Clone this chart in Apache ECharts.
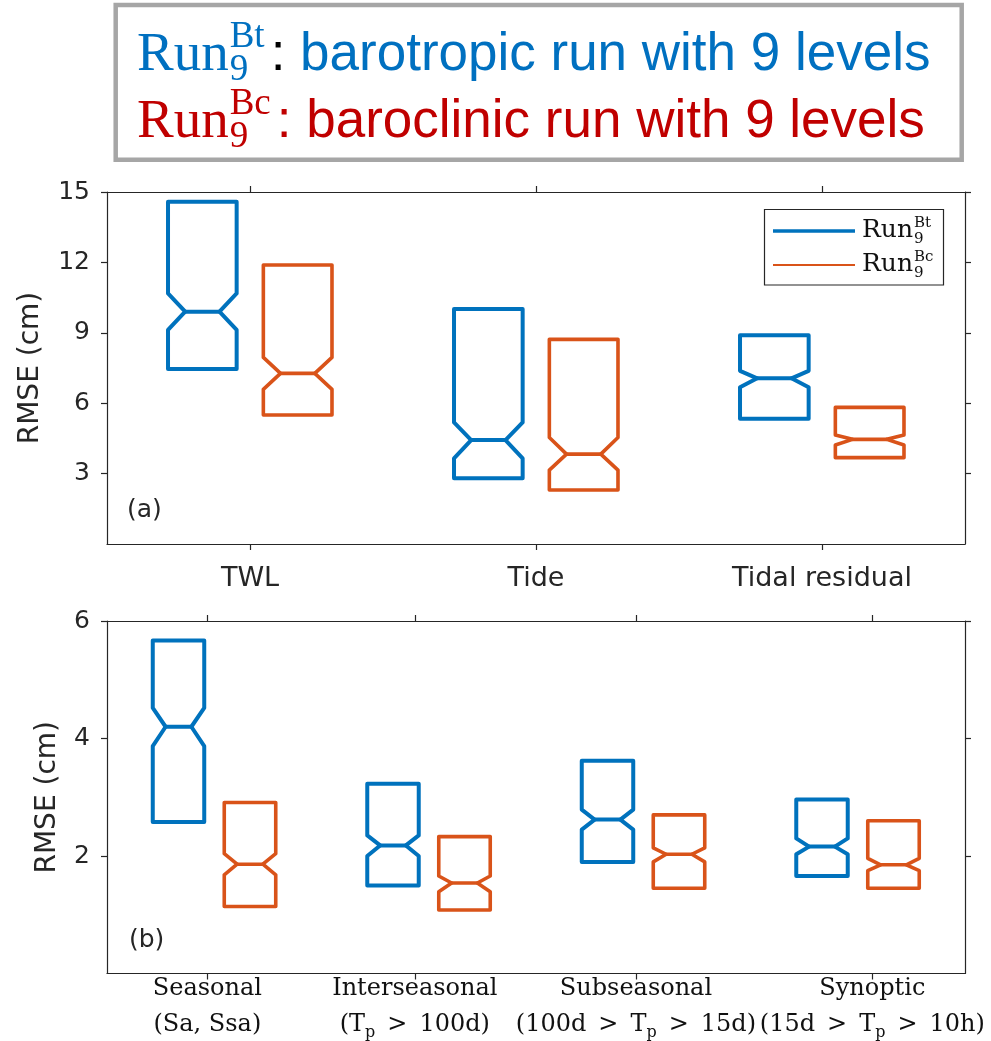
<!DOCTYPE html>
<html>
<head>
<meta charset="utf-8">
<script src="https://cdn.jsdelivr.net/npm/echarts@6/dist/echarts.min.js"></script>
<style>
  html, body { margin: 0; padding: 0; background: #fff; }
  #chart { width: 991px; height: 1041px; }
</style>
</head>
<body>
<div id="chart"></div>
<script>
// ---- data -------------------------------------------------------------
// Panel (a): RMSE (cm) of total water level, tide and tidal residual.
// Every box is [q1, notchLow, median, notchHigh, q3].
const componentNames = ['TWL', 'Tide', 'Tidal residual'];
const componentBt = [
  [7.46, 9.12, 9.90, 10.68, 14.58],
  [2.80, 3.65, 4.43, 5.18, 10.01],
  [5.34, 6.68, 7.06, 7.38, 8.90]
];
const componentBc = [
  [5.50, 6.59, 7.27, 7.95, 11.89],
  [2.30, 3.15, 3.83, 4.54, 8.72],
  [3.68, 4.22, 4.46, 4.64, 5.82]
];
const componentTicks = [3, 6, 9, 12, 15];

// Panel (b): RMSE (cm) per frequency band of the residual.
const bandNames = ['Seasonal', 'Interseasonal', 'Subseasonal', 'Synoptic'];
const bandRanges = ['(Sa, Ssa)', '(T_p > 100d)', '(100d > T_p > 15d)', '(15d > T_p > 10h)'];
const bandBt = [
  [2.58, 3.87, 4.20, 4.52, 5.67],
  [1.50, 2.00, 2.18, 2.35, 3.23],
  [1.90, 2.45, 2.62, 2.79, 3.62],
  [1.66, 2.03, 2.16, 2.30, 2.96]
];
const bandBc = [
  [1.14, 1.68, 1.86, 2.04, 2.91],
  [1.08, 1.39, 1.54, 1.66, 2.33],
  [1.45, 1.90, 2.03, 2.14, 2.70],
  [1.45, 1.75, 1.85, 1.96, 2.60]
];
const bandTicks = [2, 4, 6];

// ---- layout & style ---------------------------------------------------
const AXIS = '#262626';
const BLUE = '#0072BD';
const ORANGE = '#D95319';
const TITLE_BLUE = '#0070C0';
const TITLE_RED = '#C00000';
const BOX_W = 0.24;          // box width in category units
const PAIR_OFF = 1 / 6;      // offset of each run from the category centre
const BAND_LABEL_AT = [0.968, 1.935, 2.966, 4.068]; // where the band ticks sit

const chart = echarts.init(document.getElementById('chart'), null, { renderer: 'canvas' });

// Notched box (no whiskers): outline polygon plus the median bar.
function boxSeries(name, boxes, axisIndex, offset, color, width) {
  return {
    type: 'custom',
    name,
    xAxisIndex: axisIndex,
    yAxisIndex: axisIndex,
    data: boxes.map((b, i) => [i + 1].concat(b)),
    encode: { x: 0, y: [1, 2, 3, 4, 5] },
    renderItem(params, api) {
      const c = api.value(0) + offset;
      const xl = api.coord([c - BOX_W / 2, 0])[0];
      const xr = api.coord([c + BOX_W / 2, 0])[0];
      const py = k => api.coord([c, api.value(k)])[1];
      const q1 = py(1), nl = py(2), md = py(3), nh = py(4), q3 = py(5);
      const ind = (xr - xl) / 4;
      const style = { fill: 'none', stroke: color, lineWidth: width, lineJoin: 'round', lineCap: 'round' };
      return {
        type: 'group',
        children: [
          {
            type: 'polygon',
            shape: { points: [[xl, q1], [xl, nl], [xl + ind, md], [xl, nh], [xl, q3],
                              [xr, q3], [xr, nh], [xr - ind, md], [xr, nl], [xr, q1]] },
            style
          },
          { type: 'polyline', shape: { points: [[xl + ind, md], [xr - ind, md]] }, style }
        ]
      };
    }
  };
}

function nearestIndex(arr, v) {
  let best = 0;
  arr.forEach((a, i) => { if (Math.abs(a - v) < Math.abs(arr[best] - v)) best = i; });
  return best;
}

const lineStyle = { color: AXIS, width: 1.2 };

function xAxis(gridIndex, position, count, tickAt, label) {
  return {
    type: 'value', gridIndex, position, min: 0.5, max: count + 0.5,
    axisLine: { show: true, onZero: false, lineStyle },
    axisTick: { show: true, inside: false, length: 6, customValues: tickAt, lineStyle },
    axisLabel: label ? Object.assign({ customValues: tickAt }, label) : { show: false },
    splitLine: { show: false }
  };
}

function yAxis(gridIndex, position, max, interval, ticks, withLabels, nameGap) {
  const ax = {
    type: 'value', gridIndex, position, min: 0, max, interval,
    axisLine: { show: true, onZero: false, lineStyle },
    axisTick: { show: true, inside: false, length: 6, customValues: ticks, lineStyle },
    axisLabel: { show: false },
    splitLine: { show: false }
  };
  if (withLabels) {
    ax.axisLabel = {
      show: true, customValues: ticks, margin: 17, color: AXIS,
      fontFamily: 'DejaVu Sans', fontSize: 25
    };
    ax.name = 'RMSE (cm)';
    ax.nameLocation = 'middle';
    ax.nameGap = nameGap;
    ax.nameTextStyle = { color: AXIS, fontFamily: 'DejaVu Sans', fontSize: 28 };
  }
  return ax;
}

// Two-line band label; math-style spacing around ">" and a subscript p.
function bandLabel(i) {
  const range = bandRanges[i].replace(/ > /g, '\u2002>\u2002');
  const parts = range.split('_p');
  return '{n|' + bandNames[i] + '}\n{n|' + parts.join('}{s|p}{n|') + '}';
}

// ---- heading and legend drawn as graphics -------------------------------
const mctx = document.createElement('canvas').getContext('2d');
function metrics(text, font) {
  mctx.font = font;
  mctx.textBaseline = 'middle';
  return { w: mctx.measureText(text).width, off: mctx.measureText('H').actualBoundingBoxDescent };
}
function textAt(text, x, baseline, font, fill) {
  const m = metrics(text, font);
  return {
    type: 'text', x, y: baseline - m.off, z: 10,
    style: { text, font, fill, align: 'left', verticalAlign: 'middle' }
  };
}
function width(text, font) { return metrics(text, font).w; }

// "Run" with stacked superscript / subscript, followed by the description
function runLine(x0, base, sup, desc, color, colonColor, sizes) {
  const runF = sizes.run, scriptF = sizes.script, descF = sizes.desc;
  const out = [];
  out.push(textAt('Run', x0, base, runF, color));
  const sx = x0 + width('Run', runF) + sizes.gap;
  out.push(textAt(sup, sx, base - sizes.up, scriptF, color));
  out.push(textAt('9', sx, base + sizes.down, scriptF, color));
  let cx = sx + Math.max(width(sup, scriptF), width('9', scriptF));
  if (desc !== null) {
    cx += sizes.colonGap;
    out.push(textAt(':', cx, base, descF, colonColor));
    out.push(textAt(' ' + desc, cx + width(':', descF), base, descF, color));
  }
  return out;
}

const headSizes = {
  run: '55px "Liberation Serif"', script: '37px "Liberation Serif"',
  desc: '53px "Liberation Sans"', up: 23, down: 10, gap: 1, colonGap: 6
};
const legendSizes = {
  run: '25px "DejaVu Serif"', script: '15px "DejaVu Serif"',
  desc: '25px "DejaVu Serif"', up: 10, down: 6, gap: 1, colonGap: 0
};

const graphics = [
  {
    type: 'rect', z: 5,
    shape: { x: 115.7, y: 5, width: 846, height: 154.7 },
    style: { fill: '#fff', stroke: '#a6a6a6', lineWidth: 4.5 }
  },
  ...runLine(137, 70, 'Bt', 'barotropic run with 9 levels', TITLE_BLUE, '#000', headSizes),
  ...runLine(137, 137, 'Bc', 'baroclinic run with 9 levels', TITLE_RED, TITLE_RED, headSizes),
  {
    type: 'rect', z: 5,
    shape: { x: 764.5, y: 209.5, width: 179, height: 75.5 },
    style: { fill: '#fff', stroke: AXIS, lineWidth: 1.2 }
  },
  { type: 'line', z: 10, shape: { x1: 773, y1: 231, x2: 855, y2: 231 }, style: { stroke: BLUE, lineWidth: 3.5 } },
  { type: 'line', z: 10, shape: { x1: 773, y1: 265, x2: 855, y2: 265 }, style: { stroke: ORANGE, lineWidth: 2.2 } },
  ...runLine(862, 237, 'Bt', null, '#111', '#111', legendSizes),
  ...runLine(862, 271, 'Bc', null, '#111', '#111', legendSizes),
  {
    type: 'text', x: 127, y: 510, z: 10,
    style: { text: '(a)', font: '25px "DejaVu Sans"', fill: AXIS, verticalAlign: 'middle' }
  },
  {
    type: 'text', x: 129, y: 940, z: 10,
    style: { text: '(b)', font: '25px "DejaVu Sans"', fill: AXIS, verticalAlign: 'middle' }
  }
];

const componentAt = componentNames.map((_, i) => i + 1);

const option = {
  backgroundColor: '#fff',
  animation: false,
  grid: [
    { left: 107, top: 192, width: 858, height: 352 },
    { left: 107, top: 621, width: 858, height: 353 }
  ],
  xAxis: [
    xAxis(0, 'bottom', componentNames.length, componentAt, {
      show: true, margin: 21, color: AXIS, fontFamily: 'DejaVu Sans', fontSize: 27,
      formatter: v => componentNames[nearestIndex(componentAt, v)]
    }),
    xAxis(1, 'bottom', bandNames.length, BAND_LABEL_AT, {
      show: true, margin: -3, color: '#111',
      formatter: v => bandLabel(nearestIndex(BAND_LABEL_AT, v)),
      rich: {
        n: { fontFamily: 'DejaVu Serif', fontSize: 24, lineHeight: 36, color: '#111' },
        s: { fontFamily: 'DejaVu Serif', fontSize: 16, lineHeight: 36, padding: [17, 0, 0, 0], color: '#111' }
      }
    }),
    xAxis(0, 'top', componentNames.length, componentAt, null),
    xAxis(1, 'top', bandNames.length, BAND_LABEL_AT, null)
  ],
  yAxis: [
    yAxis(0, 'left', 15, 3, componentTicks, true, 62),
    yAxis(1, 'left', 6, 2, bandTicks, true, 45),
    yAxis(0, 'right', 15, 3, componentTicks, false),
    yAxis(1, 'right', 6, 2, bandTicks, false)
  ],
  series: [
    boxSeries('Run9 Bt', componentBt, 0, -PAIR_OFF, BLUE, 4),
    boxSeries('Run9 Bc', componentBc, 0, PAIR_OFF, ORANGE, 3.6),
    boxSeries('Run9 Bt', bandBt, 1, -PAIR_OFF, BLUE, 4),
    boxSeries('Run9 Bc', bandBc, 1, PAIR_OFF, ORANGE, 3.6)
  ],
  graphic: graphics
};

chart.setOption(option);
</script>
</body>
</html>
